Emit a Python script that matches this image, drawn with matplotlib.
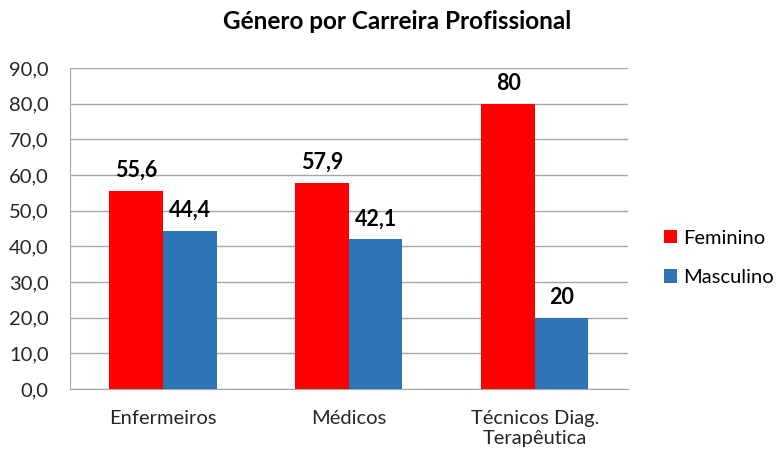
import numpy as np
import matplotlib.pyplot as plt
from matplotlib.ticker import FuncFormatter

categories = ['Enfermeiros', 'Médicos', 'Técnicos Diag.\nTerapêutica']
feminino = [55.6, 57.9, 80]
masculino = [44.4, 42.1, 20]
fem_labels = ['55,6', '57,9', '80']
masc_labels = ['44,4', '42,1', '20']

plt.rcParams['font.family'] = ['Lato', 'DejaVu Sans']

fig = plt.figure(figsize=(7.78, 4.54), dpi=100)
ax = fig.add_axes([0.09, 0.143, 0.717, 0.707])

x = np.arange(len(categories))
w = 0.288
b1 = ax.bar(x - w / 2, feminino, w, color='#FF0000', label='Feminino', zorder=3)
b2 = ax.bar(x + w / 2, masculino, w, color='#2E75B6', label='Masculino', zorder=3)

for bars, labs in ((b1, fem_labels), (b2, masc_labels)):
    for r, t in zip(bars, labs):
        ax.annotate(t, (r.get_x() + r.get_width() / 2, r.get_height()),
                    xytext=(0, 7), textcoords='offset points',
                    ha='center', va='bottom', fontsize=15.5, fontweight='bold')

ax.set_xlim(-0.5, 2.5)
ax.set_ylim(0, 90)
ax.set_yticks(np.arange(0, 91, 10))
ax.yaxis.set_major_formatter(FuncFormatter(lambda v, p: ('%.1f' % v).replace('.', ',')))
ax.set_xticks(x)
ax.set_xticklabels(categories, linespacing=1.25)
ax.tick_params(length=0, labelsize=14.5, colors='#262626')
ax.tick_params(axis='x', pad=15)
ax.tick_params(axis='y', pad=15.5)
ax.grid(axis='y', color='#A6A6A6', linewidth=1, zorder=0)
for s in ('top', 'right'):
    ax.spines[s].set_visible(False)
for s in ('left', 'bottom'):
    ax.spines[s].set_color('#A6A6A6')

fig.suptitle('Género por Carreira Profissional', x=0.51, y=0.952, va='center',
             fontsize=17.5, fontweight='bold')
fig.legend(loc='center left', bbox_to_anchor=(0.843, 0.432), borderaxespad=0,
           frameon=False, fontsize=14.5, handlelength=0.65, handleheight=0.65,
           handletextpad=0.3, labelspacing=1.1)

fig.savefig('out.png', dpi=100)
